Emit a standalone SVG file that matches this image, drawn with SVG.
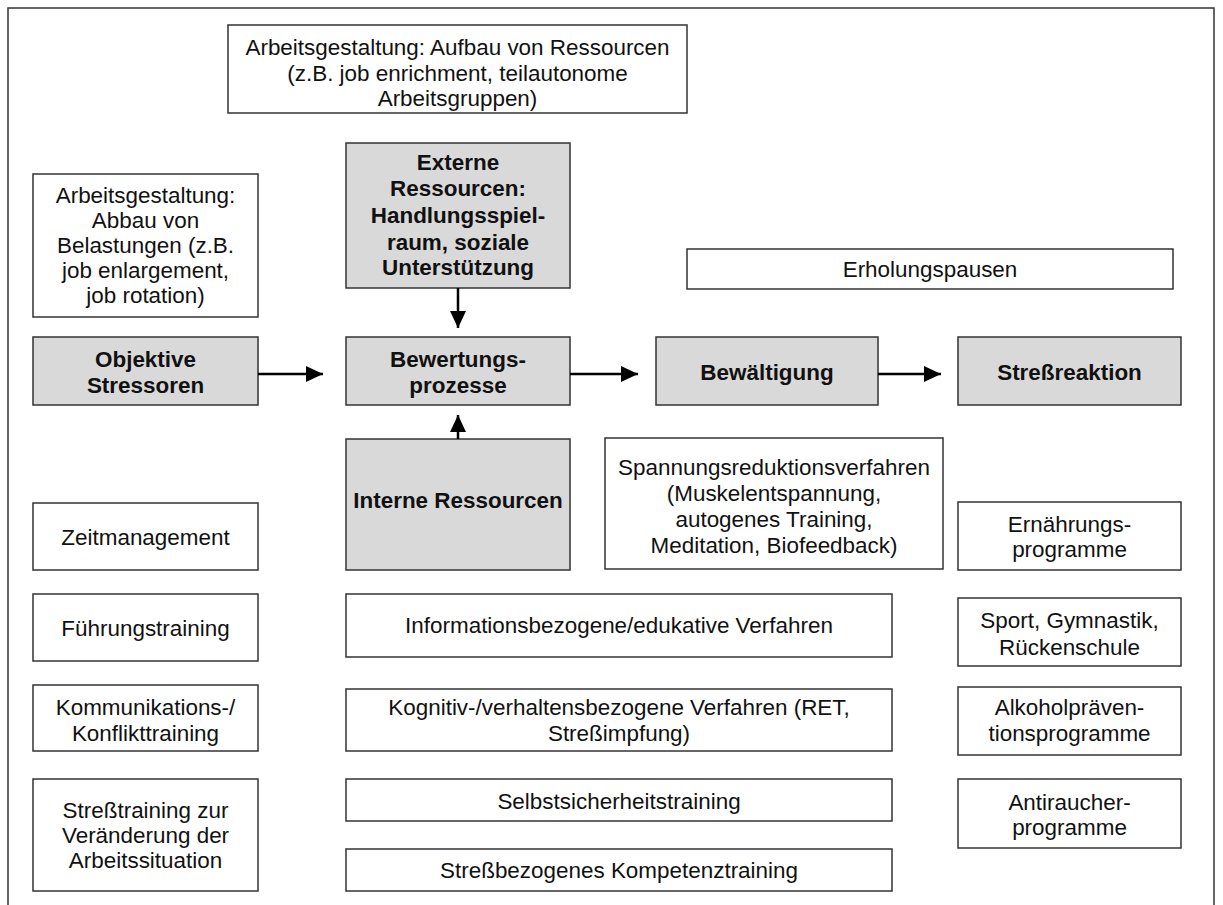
<svg xmlns="http://www.w3.org/2000/svg" width="1223" height="905" viewBox="0 0 1223 905">
<style>
.box{fill:#fff;stroke:#333;stroke-width:1.5}
.gray{fill:#d9d9d9}
.t{font-family:"Liberation Sans",Arial,Helvetica,sans-serif;font-size:22px;fill:#111;text-anchor:middle}
.b{font-weight:bold}
.conn{stroke:#000;stroke-width:2.5;fill:none;marker-end:url(#ah)}
.frame{fill:none;stroke:#333;stroke-width:1.5}
</style>
<defs>
<marker id="ah" markerUnits="userSpaceOnUse" markerWidth="18" markerHeight="18" refX="17" refY="8" orient="auto">
<path d="M0,0 L17,8 L0,16 z" fill="#000"/>
</marker>
</defs>
<rect x="0" y="0" width="1223" height="905" fill="#fff"/>
<path class="frame" d="M8,906 V8 H1214 V906"/>

<g id="aufbau">
<rect class="box" x="228" y="25" width="459" height="88"/>
<g class="t" transform="translate(457.5 0) scale(1.02 1)">
<text x="0" y="55">Arbeitsgestaltung: Aufbau von Ressourcen</text>
<text x="0" y="81">(z.B. job enrichment, teilautonome</text>
<text x="0" y="106">Arbeitsgruppen)</text>
</g>
</g>

<g id="abbau">
<rect class="box" x="33" y="174" width="225" height="143"/>
<g class="t" transform="translate(145.5 0) scale(1.02 1)">
<text x="0" y="203">Arbeitsgestaltung:</text>
<text x="0" y="228">Abbau von</text>
<text x="0" y="253">Belastungen (z.B.</text>
<text x="0" y="278">job enlargement,</text>
<text x="0" y="303">job rotation)</text>
</g>
</g>

<g id="externe">
<rect class="box gray" x="346" y="143" width="224" height="145"/>
<g class="t b" transform="translate(458 0) scale(1.02 1)">
<text x="0" y="170">Externe</text>
<text x="0" y="196">Ressourcen:</text>
<text x="0" y="223">Handlungsspiel-</text>
<text x="0" y="250">raum, soziale</text>
<text x="0" y="275">Unterstützung</text>
</g>
</g>

<g id="erholung">
<rect class="box" x="687" y="249" width="486" height="40"/>
<g class="t" transform="translate(930 0) scale(1.02 1)">
<text x="0" y="277">Erholungspausen</text>
</g>
</g>

<g id="objektive">
<rect class="box gray" x="33" y="337" width="225" height="68"/>
<g class="t b" transform="translate(145.5 0) scale(1.02 1)">
<text x="0" y="367">Objektive</text>
<text x="0" y="393">Stressoren</text>
</g>
</g>

<g id="bewertung">
<rect class="box gray" x="346" y="337" width="224" height="68"/>
<g class="t b" transform="translate(458 0) scale(1.02 1)">
<text x="0" y="367">Bewertungs-</text>
<text x="0" y="393">prozesse</text>
</g>
</g>

<g id="bewaeltigung">
<rect class="box gray" x="656" y="337" width="222" height="68"/>
<g class="t b" transform="translate(767 0) scale(1.02 1)">
<text x="0" y="380">Bewältigung</text>
</g>
</g>

<g id="stressreaktion">
<rect class="box gray" x="958" y="337" width="223" height="68"/>
<g class="t b" transform="translate(1069.5 0) scale(1.02 1)">
<text x="0" y="380">Streßreaktion</text>
</g>
</g>

<g id="interne">
<rect class="box gray" x="346" y="439" width="224" height="131"/>
<g class="t b" transform="translate(458 0) scale(1.02 1)">
<text x="0" y="508">Interne Ressourcen</text>
</g>
</g>

<g id="spannung">
<rect class="box" x="605" y="438" width="338" height="131"/>
<g class="t" transform="translate(774 0) scale(1.02 1)">
<text x="0" y="475">Spannungsreduktionsverfahren</text>
<text x="0" y="501">(Muskelentspannung,</text>
<text x="0" y="527">autogenes Training,</text>
<text x="0" y="553">Meditation, Biofeedback)</text>
</g>
</g>

<g id="zeit">
<rect class="box" x="33" y="503" width="225" height="67"/>
<g class="t" transform="translate(145.5 0) scale(1.02 1)">
<text x="0" y="545">Zeitmanagement</text>
</g>
</g>

<g id="ernaehrung">
<rect class="box" x="958" y="502" width="223" height="68"/>
<g class="t" transform="translate(1069.5 0) scale(1.02 1)">
<text x="0" y="532">Ernährungs-</text>
<text x="0" y="557">programme</text>
</g>
</g>

<g id="fuehrung">
<rect class="box" x="33" y="594" width="225" height="67"/>
<g class="t" transform="translate(145.5 0) scale(1.02 1)">
<text x="0" y="636">Führungstraining</text>
</g>
</g>

<g id="info">
<rect class="box" x="346" y="594" width="546" height="63"/>
<g class="t" transform="translate(619 0) scale(1.02 1)">
<text x="0" y="633">Informationsbezogene/edukative Verfahren</text>
</g>
</g>

<g id="sport">
<rect class="box" x="958" y="598" width="223" height="68"/>
<g class="t" transform="translate(1069.5 0) scale(1.02 1)">
<text x="0" y="628">Sport, Gymnastik,</text>
<text x="0" y="655">Rückenschule</text>
</g>
</g>

<g id="kommunikation">
<rect class="box" x="33" y="685" width="225" height="66"/>
<g class="t" transform="translate(145.5 0) scale(1.02 1)">
<text x="0" y="715">Kommunikations-/</text>
<text x="0" y="741">Konflikttraining</text>
</g>
</g>

<g id="kognitiv">
<rect class="box" x="346" y="689" width="546" height="62"/>
<g class="t" transform="translate(619 0) scale(1.02 1)">
<text x="0" y="715">Kognitiv-/verhaltensbezogene Verfahren (RET,</text>
<text x="0" y="741">Streßimpfung)</text>
</g>
</g>

<g id="alkohol">
<rect class="box" x="958" y="687" width="223" height="68"/>
<g class="t" transform="translate(1069.5 0) scale(1.02 1)">
<text x="0" y="715">Alkoholpräven-</text>
<text x="0" y="741">tionsprogramme</text>
</g>
</g>

<g id="stresstraining">
<rect class="box" x="33" y="779" width="225" height="112"/>
<g class="t" transform="translate(145.5 0) scale(1.02 1)">
<text x="0" y="818">Streßtraining zur</text>
<text x="0" y="843">Veränderung der</text>
<text x="0" y="868">Arbeitssituation</text>
</g>
</g>

<g id="selbst">
<rect class="box" x="346" y="779" width="546" height="42"/>
<g class="t" transform="translate(619 0) scale(1.02 1)">
<text x="0" y="809">Selbstsicherheitstraining</text>
</g>
</g>

<g id="antiraucher">
<rect class="box" x="958" y="779" width="223" height="69"/>
<g class="t" transform="translate(1069.5 0) scale(1.02 1)">
<text x="0" y="810">Antiraucher-</text>
<text x="0" y="835">programme</text>
</g>
</g>

<g id="kompetenz">
<rect class="box" x="346" y="849" width="546" height="42"/>
<g class="t" transform="translate(619 0) scale(1.02 1)">
<text x="0" y="878">Streßbezogenes Kompetenztraining</text>
</g>
</g>

<g id="connectors">
<path class="conn" d="M258,374 H323"/>
<path class="conn" d="M570,374 H638"/>
<path class="conn" d="M878,374 H941"/>
<path class="conn" d="M458,288 V328"/>
<path class="conn" d="M458,439 V415"/>
</g>
</svg>
